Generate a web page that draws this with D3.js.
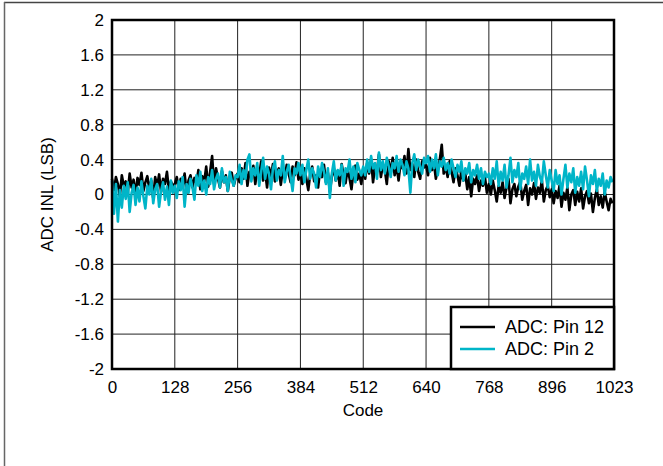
<!DOCTYPE html>
<html><head><meta charset="utf-8">
<script src="https://cdn.jsdelivr.net/npm/d3@7"></script>
<style>body{margin:0;background:#fff}svg{display:block}text{font-family:"Liberation Sans",Arial,sans-serif}</style>
</head><body>
<script>
const xTicks = [0,128,256,384,512,640,768,896,1023];
const yTicks = [2,1.6,1.2,0.8,0.4,0,-0.4,-0.8,-1.2,-1.6,-2];
const yTickLabels = ["2","1.6","1.2","0.8","0.4","0","-0.4","-0.8","-1.2","-1.6","-2"];
const codeStep = 4;
const pin12 = [
0.18,0.05,0.20,0.12,-0.02,0.22,0.10,0.15,0.02,0.24,0.08,0.17,0.00,0.19,0.11,0.25,0.04,0.14,0.21,0.06,0.16,-0.04,0.20,0.09,0.23,0.03,0.18,0.12,0.26,0.05,0.15,0.10,
0.12,0.20,0.05,0.18,0.10,0.24,0.02,0.16,0.22,0.08,0.19,0.13,0.28,0.06,0.21,0.15,0.32,0.09,0.26,0.44,0.12,0.30,0.18,0.08,0.27,0.14,0.22,0.04,0.20,0.25,0.10,0.19,
0.24,0.14,0.30,0.18,0.36,0.10,0.26,0.20,0.33,0.12,0.28,0.22,0.38,0.16,0.27,0.08,0.31,0.21,0.35,0.15,0.25,0.30,0.11,0.28,0.19,0.34,0.24,0.14,0.32,0.22,0.37,0.17,
0.26,0.12,0.30,0.18,0.05,0.24,0.32,0.15,0.22,0.08,0.28,0.20,0.34,0.14,0.25,0.03,0.21,0.30,0.16,0.27,0.10,0.35,0.22,0.13,0.29,0.19,0.06,0.26,0.33,0.17,0.24,0.12,
0.30,0.18,0.36,0.24,0.40,0.14,0.32,0.26,0.46,0.20,0.34,0.28,0.12,0.38,0.25,0.42,0.22,0.33,0.16,0.36,0.30,0.44,0.24,0.52,0.28,0.35,0.20,0.40,0.26,0.18,0.38,0.31,
0.34,0.22,0.42,0.28,0.36,0.18,0.30,0.40,0.57,0.24,0.32,0.20,0.38,0.26,0.14,0.30,0.22,0.10,0.28,0.16,0.24,0.06,0.20,-0.02,0.18,0.12,0.22,0.04,0.16,0.10,0.20,0.02,
0.12,0.00,0.16,0.05,-0.08,0.10,0.02,0.14,-0.04,0.08,0.18,-0.10,0.06,0.12,-0.02,0.09,0.15,-0.06,0.04,0.11,-0.12,0.07,0.00,0.13,-0.05,0.08,0.02,0.16,-0.08,0.05,0.10,-0.03,
0.06,-0.10,0.04,-0.04,0.10,-0.14,0.02,-0.06,0.08,-0.18,0.00,0.05,-0.12,0.03,-0.08,0.07,-0.16,-0.02,0.04,-0.10,0.01,-0.20,-0.04,0.06,-0.12,-0.02,-0.15,0.03,-0.08,-0.18,-0.05,-0.10
];
const pin2 = [
0.16,-0.22,0.12,-0.31,0.05,-0.15,0.10,-0.05,0.14,-0.20,0.02,0.11,-0.12,0.08,-0.08,0.15,-0.02,-0.16,0.10,0.00,0.18,-0.10,0.06,0.12,-0.14,0.04,0.14,-0.06,0.09,-0.12,0.16,0.02,
0.10,-0.04,0.15,0.05,0.20,-0.14,0.12,0.02,0.18,0.08,-0.06,0.22,0.10,0.26,0.04,0.16,0.00,0.20,0.12,0.28,0.06,0.18,0.24,0.08,0.30,0.14,0.20,0.04,0.26,0.16,0.10,0.22,
0.20,0.34,0.12,0.28,0.18,0.40,0.46,0.15,0.30,0.22,0.36,0.10,0.26,0.42,0.18,0.32,0.24,0.06,0.30,0.38,0.16,0.28,0.22,0.44,0.14,0.26,0.34,0.20,0.04,0.30,0.24,0.36,
0.22,0.34,0.14,0.28,0.40,0.18,0.30,0.24,0.08,0.32,0.20,0.36,0.26,0.12,0.30,-0.04,0.24,0.38,0.16,0.28,0.22,0.34,0.10,0.30,0.26,0.40,0.18,0.32,0.14,0.36,0.28,0.22,
0.32,0.22,0.40,0.26,0.44,0.30,0.36,0.18,0.48,0.28,0.38,0.24,0.42,0.32,0.20,0.36,0.30,0.44,0.26,0.40,0.34,0.22,0.38,0.30,0.02,0.36,0.46,0.28,0.40,0.32,0.24,0.42,
0.36,0.44,0.26,0.40,0.30,0.46,0.22,0.38,0.32,0.42,0.28,0.36,0.24,0.40,0.30,0.20,0.34,0.26,0.38,0.16,0.30,0.24,0.36,0.14,0.28,0.22,0.34,0.18,0.30,0.12,0.26,0.20,
0.24,0.12,0.30,0.18,0.38,0.10,0.26,0.16,0.34,0.08,0.22,0.42,0.14,0.28,0.20,0.36,0.06,0.24,0.18,0.32,0.12,0.40,0.16,0.26,0.10,0.34,0.20,0.14,0.38,0.22,0.08,0.28,
0.16,0.04,0.28,0.12,0.22,0.00,0.18,0.34,0.08,0.24,0.14,0.30,0.02,0.20,0.10,0.26,0.06,0.32,0.16,-0.02,0.22,0.12,0.28,0.04,0.18,0.10,0.24,0.00,0.16,0.08,0.20,0.14
];
const seriesNames = ["ADC: Pin 12","ADC: Pin 2"];
const seriesColors = ["#000000","#00b5c8"];

const W=663,H=466,FS=17;
const svg=d3.select("body").append("svg").attr("width",W).attr("height",H);
svg.append("line").attr("x1",4).attr("x2",W).attr("y1",2.5).attr("y2",2.5).attr("stroke","#444").attr("stroke-width",1.5);
svg.append("line").attr("x1",4.5).attr("x2",4.5).attr("y1",2).attr("y2",H).attr("stroke","#666").attr("stroke-width",1.5);

const L=112,R=614,T=20,B=369;
const x=d3.scaleLinear().domain([0,1023]).range([L,R]);
const y=d3.scaleLinear().domain([-2,2]).range([B,T]);

const g=svg.append("g");
g.selectAll(".vg").data(xTicks.slice(1,-1)).join("line")
 .attr("x1",d=>x(d)).attr("x2",d=>x(d)).attr("y1",T).attr("y2",B).attr("stroke","#222").attr("stroke-width",1);
g.selectAll(".hg").data(yTicks.slice(1,-1)).join("line")
 .attr("x1",L).attr("x2",R).attr("y1",d=>y(d)).attr("y2",d=>y(d)).attr("stroke","#222").attr("stroke-width",1);

const line=d3.line().x((d,i)=>x(Math.min(i*codeStep,1023))).y(d=>y(d));
[pin12,pin2].forEach((s,k)=>{
  g.append("path").datum(s).attr("d",line).attr("fill","none").attr("stroke",seriesColors[k]).attr("stroke-width",2.6).attr("stroke-linejoin","round");
});

const xAxis=d3.axisBottom(x).tickValues(xTicks).tickSize(0).tickPadding(12).tickFormat(d=>String(d));
const xa=svg.append("g").attr("transform",`translate(0,${B})`).call(xAxis);
xa.select(".domain").remove();
xa.selectAll("text").attr("font-size",FS).attr("fill","#000").attr("font-family","Liberation Sans, Arial, sans-serif");
const yAxis=d3.axisLeft(y).tickValues(yTicks).tickSize(0).tickPadding(8).tickFormat((d,i)=>yTickLabels[i]);
const ya=svg.append("g").attr("transform",`translate(${L},0)`).call(yAxis);
ya.select(".domain").remove();
ya.selectAll("text").attr("font-size",FS).attr("fill","#000").attr("font-family","Liberation Sans, Arial, sans-serif");

svg.append("rect").attr("x",L).attr("y",T).attr("width",R-L).attr("height",B-T).attr("fill","none").attr("stroke","#000").attr("stroke-width",2.5);

svg.append("text").attr("x",(L+R)/2).attr("y",416).attr("text-anchor","middle").attr("font-size",FS).text("Code");
svg.append("text").attr("transform",`translate(53,${(T+B)/2}) rotate(-90)`).attr("text-anchor","middle").attr("font-size",FS).text("ADC INL (LSB)");

const lg=svg.append("g");
lg.append("rect").attr("x",451).attr("y",307).attr("width",R-451).attr("height",B-307).attr("fill","#fff").attr("stroke","#000").attr("stroke-width",2.5);
seriesNames.forEach((n,k)=>{
  const yy=327+k*22;
  lg.append("line").attr("x1",460).attr("x2",495).attr("y1",yy).attr("y2",yy).attr("stroke",seriesColors[k]).attr("stroke-width",2.5);
  lg.append("text").attr("x",505).attr("y",yy+6).attr("font-size",18).text(n);
});
</script>
</body></html>
